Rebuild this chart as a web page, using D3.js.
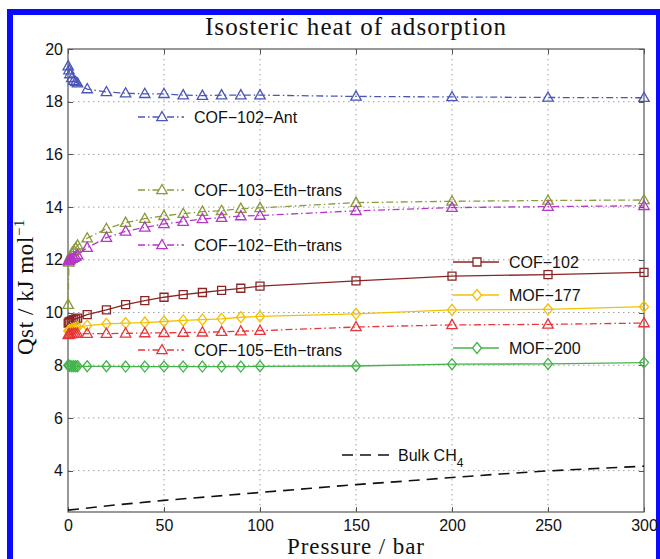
<!DOCTYPE html>
<html lang="en">
<head>
<meta charset="UTF-8">
<script src="https://d3js.org/d3.v7.min.js"></script>
<style>
    body {
        margin: 0;
        background-color: #ffffff;
    }
    .axis line {
        stroke: #555;
        shape-rendering: crispEdges;
    }
    .axis path {
        display: none;
    }
    .axis text {
        font-family: "Liberation Sans", Arial, sans-serif;
        font-size: 16px;
        fill: #111;
    }
    .grid line {
        stroke: #a0a0a0;
        stroke-width: 1;
        stroke-dasharray: 1.5,3.5;
    }
    .legend text {
        font-family: "Liberation Sans", Arial, sans-serif;
        font-size: 16px;
        fill: #111;
    }
    .serif {
        font-family: "Liberation Serif", "DejaVu Serif", serif;
        fill: #111;
    }
</style>
</head>
<body>
<svg id="viz" width="660" height="559"></svg>
<script>

    // pressure points (bar) shared by the simulated isotherms
    var pressure = [0.1, 0.5, 1, 2, 3, 4, 5, 10, 20, 30, 40, 50, 60, 70, 80, 90, 100, 150, 200, 250, 300];

    var cof102Ant  = [19.35, 19.2, 19.05, 18.9, 18.8, 18.75, 18.7, 18.48, 18.37, 18.32, 18.3, 18.3, 18.25, 18.23, 18.25, 18.25, 18.25, 18.2, 18.18, 18.16, 18.15];
    var cof103Eth  = [10.3, 11.9, 12.1, 12.25, 12.35, 12.45, 12.55, 12.82, 13.18, 13.41, 13.56, 13.67, 13.75, 13.83, 13.86, 13.94, 13.97, 14.17, 14.22, 14.25, 14.27];
    var cof102Eth  = [11.95, 11.98, 12.0, 12.04, 12.08, 12.12, 12.18, 12.46, 12.84, 13.08, 13.23, 13.36, 13.45, 13.55, 13.6, 13.66, 13.68, 13.86, 13.98, 14.02, 14.05];
    var cof102     = [9.6, 9.63, 9.66, 9.7, 9.73, 9.76, 9.79, 9.92, 10.1, 10.3, 10.45, 10.58, 10.68, 10.76, 10.84, 10.92, 11.0, 11.2, 11.38, 11.44, 11.52];
    var mof177     = [9.3, 9.32, 9.34, 9.37, 9.4, 9.42, 9.44, 9.5, 9.57, 9.6, 9.62, 9.66, 9.7, 9.73, 9.76, 9.82, 9.85, 9.95, 10.1, 10.12, 10.22];
    var cof105Eth  = [9.15, 9.17, 9.18, 9.19, 9.2, 9.2, 9.2, 9.2, 9.2, 9.21, 9.22, 9.23, 9.24, 9.25, 9.27, 9.29, 9.31, 9.45, 9.53, 9.55, 9.6];
    var mof200     = [8.0, 7.98, 7.97, 7.96, 7.96, 7.96, 7.96, 7.96, 7.96, 7.95, 7.95, 7.95, 7.95, 7.95, 7.95, 7.95, 7.96, 7.97, 8.04, 8.05, 8.1];

    // bulk methane curve
    var bulkPressure = [0, 25, 50, 75, 100, 125, 150, 175, 200, 225, 250, 275, 300];
    var bulkCH4      = [2.5, 2.7, 2.87, 3.02, 3.17, 3.32, 3.47, 3.6, 3.74, 3.87, 3.99, 4.08, 4.17];

    var xTicks = [0, 50, 100, 150, 200, 250, 300];
    var yTicks = [4, 6, 8, 10, 12, 14, 16, 18, 20];

    var seriesNames = ["COF\u2212102\u2212Ant", "COF\u2212103\u2212Eth\u2212trans", "COF\u2212102\u2212Eth\u2212trans",
                       "COF\u2212102", "MOF\u2212177", "COF\u2212105\u2212Eth\u2212trans", "MOF\u2212200"];

    var svg = d3.select("#viz"),
        margin = {top: 49, left: 68, right: 16, bottom: 47},
        width = 660 - margin.left - margin.right,
        height = 559 - margin.top - margin.bottom;

    // blue frame around the figure
    svg.append("rect")
        .attr("x", 10).attr("y", 12)
        .attr("width", 649).attr("height", 600)
        .attr("fill", "none")
        .attr("stroke", "#0a0aff")
        .attr("stroke-width", 6);

    var g = svg.append("g").attr("transform", "translate(" + margin.left + "," + margin.top + ")");

    var x = d3.scaleLinear().domain([0, 300]).range([0, width]);
    var y = d3.scaleLinear().domain([2.43, 20]).range([height, 0]);

    // dotted grid
    var grid = g.append("g").attr("class", "grid");
    grid.selectAll(".gx").data(xTicks.slice(1, -1)).enter().append("line")
        .attr("x1", function(d) { return x(d); }).attr("x2", function(d) { return x(d); })
        .attr("y1", 0).attr("y2", height);
    grid.selectAll(".gy").data(yTicks.slice(0, -1)).enter().append("line")
        .attr("x1", 0).attr("x2", width)
        .attr("y1", function(d) { return y(d); }).attr("y2", function(d) { return y(d); });

    // axes, ticks pointing in
    g.append("g").attr("class", "axis")
        .attr("transform", "translate(0," + height + ")")
        .call(d3.axisBottom(x).tickValues(xTicks).tickSizeInner(-5).tickSizeOuter(0).tickPadding(8));
    g.append("g").attr("class", "axis")
        .call(d3.axisTop(x).tickValues(xTicks).tickSizeInner(-5).tickSizeOuter(0).tickFormat(""));
    g.append("g").attr("class", "axis")
        .call(d3.axisLeft(y).tickValues(yTicks).tickSizeInner(-5).tickSizeOuter(0).tickPadding(5));
    g.append("g").attr("class", "axis")
        .attr("transform", "translate(" + width + ",0)")
        .call(d3.axisRight(y).tickValues(yTicks).tickSizeInner(-5).tickSizeOuter(0).tickFormat(""));

    g.append("rect")
        .attr("width", width).attr("height", height)
        .attr("fill", "none").attr("stroke", "#555").attr("stroke-width", 1.2);

    var shapes = {
        triangle: "M0,-5.5L5.2,3.7L-5.2,3.7Z",
        square: "M-4,-4H4V4H-4Z",
        diamond: "M0,-5.5L4.5,0L0,5.5L-4.5,0Z"
    };
    var dashDot = "7,3,1.5,3";

    var series = [
        {name: seriesNames[0], values: cof102Ant, color: "#4a55b8", dash: dashDot, marker: "triangle", lx: 138, ly: 117},
        {name: seriesNames[1], values: cof103Eth, color: "#8a9a3c", dash: dashDot, marker: "triangle", lx: 138, ly: 190},
        {name: seriesNames[2], values: cof102Eth, color: "#b437c8", dash: dashDot, marker: "triangle", lx: 138, ly: 245},
        {name: seriesNames[3], values: cof102, color: "#8b2525", dash: null, marker: "square", lx: 453, ly: 262},
        {name: seriesNames[4], values: mof177, color: "#f2c200", dash: null, marker: "diamond", lx: 453, ly: 295},
        {name: seriesNames[5], values: cof105Eth, color: "#e8343a", dash: dashDot, marker: "triangle", lx: 138, ly: 350},
        {name: seriesNames[6], values: mof200, color: "#44b44a", dash: null, marker: "diamond", lx: 453, ly: 348}
    ];

    var line = d3.line()
        .x(function(d) { return x(d[0]); })
        .y(function(d) { return y(d[1]); });

    // bulk CH4 dashed
    g.append("path")
        .datum(bulkPressure.map(function(p, i) { return [p, bulkCH4[i]]; }))
        .attr("d", line)
        .attr("fill", "none")
        .attr("stroke", "#111")
        .attr("stroke-width", 1.6)
        .attr("stroke-dasharray", "11,7");

    series.forEach(function(s) {
        var pts = pressure.map(function(p, i) { return [p, s.values[i]]; });
        g.append("path")
            .datum(pts)
            .attr("d", line)
            .attr("fill", "none")
            .attr("stroke", s.color)
            .attr("stroke-width", 1.3)
            .attr("stroke-dasharray", s.dash);
        g.append("g").selectAll("path")
            .data(pts)
            .enter().append("path")
            .attr("transform", function(d) { return "translate(" + x(d[0]) + "," + y(d[1]) + ")"; })
            .attr("d", shapes[s.marker])
            .attr("fill", "none")
            .attr("stroke", s.color)
            .attr("stroke-width", 1.3);
    });

    // in-plot legend entries
    var legend = svg.append("g").attr("class", "legend");
    series.forEach(function(s) {
        var e = legend.append("g").attr("transform", "translate(" + s.lx + "," + s.ly + ")");
        e.append("line")
            .attr("x1", 0).attr("x2", 46)
            .attr("stroke", s.color).attr("stroke-width", 1.3)
            .attr("stroke-dasharray", s.dash);
        e.append("path")
            .attr("transform", "translate(24,0)")
            .attr("d", shapes[s.marker])
            .attr("fill", "#fff")
            .attr("stroke", s.color).attr("stroke-width", 1.3);
        e.append("text")
            .attr("x", 56).attr("dy", "0.36em")
            .text(s.name);
    });
    var bulkLeg = legend.append("g").attr("transform", "translate(342,455)");
    bulkLeg.append("line")
        .attr("x1", 0).attr("x2", 50)
        .attr("stroke", "#111").attr("stroke-width", 1.6)
        .attr("stroke-dasharray", "11,7");
    var bulkText = bulkLeg.append("text").attr("x", 56).attr("dy", "0.36em").text("Bulk CH");
    bulkText.append("tspan").attr("dy", 6).attr("font-size", 12).text("4");

    // titles
    svg.append("text")
        .attr("class", "serif")
        .attr("x", margin.left + width / 2).attr("y", 35)
        .attr("text-anchor", "middle")
        .attr("font-size", 25)
        .attr("letter-spacing", 1.1)
        .text("Isosteric heat of adsorption");

    svg.append("text")
        .attr("class", "serif")
        .attr("x", margin.left + width / 2).attr("y", 554)
        .attr("text-anchor", "middle")
        .attr("font-size", 23)
        .attr("letter-spacing", 0.9)
        .text("Pressure / bar");

    var yLabel = svg.append("text")
        .attr("class", "serif")
        .attr("transform", "translate(33,287) rotate(-90)")
        .attr("text-anchor", "middle")
        .attr("font-size", 23)
        .attr("letter-spacing", 0.6)
        .text("Qst / kJ mol");
    yLabel.append("tspan").attr("dy", -9).attr("font-size", 15).text("\u22121");

</script>
</body>
</html>
